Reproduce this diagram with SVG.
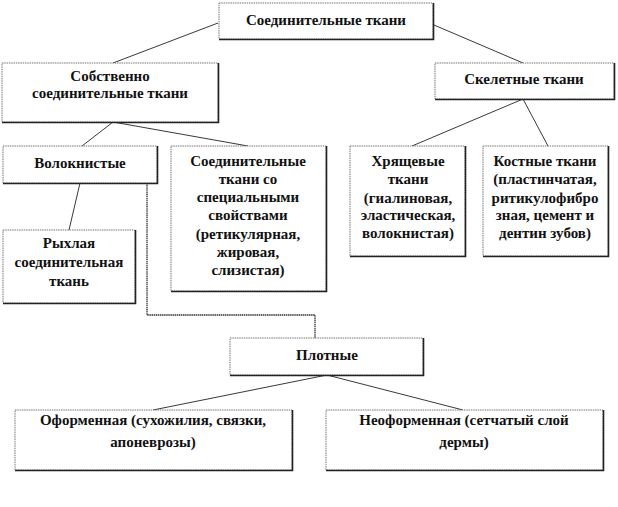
<svg xmlns="http://www.w3.org/2000/svg" width="618" height="507" viewBox="0 0 618 507">
<style>
.box{fill:#fff;stroke:#777;stroke-width:1;stroke-dasharray:1.5 0.8}
.sh{fill:none;stroke:#222;stroke-width:1.6}
.t{font-weight:bold;font-size:15px;fill:#111;text-anchor:middle}
.c{fill:none;stroke:#222;stroke-width:0.9}
.e{fill:none;stroke:#333;stroke-width:1.3;stroke-dasharray:1.5 0.6}
</style>
<rect width="618" height="507" fill="#fff"/>
<g id="connectors">
<line class="c" x1="218" y1="23" x2="113" y2="63"/>
<line class="c" x1="434" y1="25" x2="523" y2="63"/>
<line class="c" x1="113" y1="122" x2="82" y2="146"/>
<line class="c" x1="113" y1="122" x2="248" y2="146"/>
<line class="c" x1="523" y1="99" x2="412" y2="146"/>
<line class="c" x1="523" y1="99" x2="548" y2="146"/>
<line class="c" x1="80" y1="183" x2="69" y2="230"/>
<polyline class="e" points="147,183 147,315 315,315 315,338"/>
<line class="c" x1="327" y1="375" x2="153" y2="410"/>
<line class="c" x1="327" y1="375" x2="463" y2="410"/>
</g>
<g font-family="Liberation Serif, Times New Roman, serif">
<g id="n-root">
<rect class="box" x="219" y="3" width="214" height="36"/>
<polyline class="sh" points="433.5,3 433.5,39.5 219,39.5"/>
<text class="t" x="326" y="25">Соединительные ткани</text>
</g>
<g id="n-proper">
<rect class="box" x="2" y="63" width="216" height="59"/>
<polyline class="sh" points="218.5,63 218.5,122.5 2,122.5"/>
<text class="t" x="110" y="81">Собственно</text>
<text class="t" x="110" y="98">соединительные ткани</text>
</g>
<g id="n-skeletal">
<rect class="box" x="435" y="63" width="179" height="36"/>
<polyline class="sh" points="614.5,63 614.5,99.5 435,99.5"/>
<text class="t" x="524" y="84">Скелетные ткани</text>
</g>
<g id="n-fibrous">
<rect class="box" x="3" y="146" width="154" height="37"/>
<polyline class="sh" points="157.5,146 157.5,183.5 3,183.5"/>
<text class="t" x="80" y="168">Волокнистые</text>
</g>
<g id="n-special">
<rect class="box" x="171" y="146" width="155" height="145"/>
<polyline class="sh" points="326.5,146 326.5,291.5 171,291.5"/>
<text class="t" x="248" y="166">Соединительные</text>
<text class="t" x="248" y="184">ткани со</text>
<text class="t" x="248" y="202">специальными</text>
<text class="t" x="248" y="220">свойствами</text>
<text class="t" x="248" y="239">(ретикулярная,</text>
<text class="t" x="248" y="257">жировая,</text>
<text class="t" x="248" y="275">слизистая)</text>
</g>
<g id="n-loose">
<rect class="box" x="3" y="230" width="132" height="73"/>
<polyline class="sh" points="135.5,230 135.5,303.5 3,303.5"/>
<text class="t" x="69" y="248">Рыхлая</text>
<text class="t" x="69" y="267">соединительная</text>
<text class="t" x="69" y="286">ткань</text>
</g>
<g id="n-cartilage">
<rect class="box" x="350" y="146" width="115" height="110"/>
<polyline class="sh" points="465.5,146 465.5,256.5 350,256.5"/>
<text class="t" x="408" y="166">Хрящевые</text>
<text class="t" x="408" y="184">ткани</text>
<text class="t" x="408" y="203">(гиалиновая,</text>
<text class="t" x="408" y="220">эластическая,</text>
<text class="t" x="408" y="238">волокнистая)</text>
</g>
<g id="n-bone">
<rect class="box" x="483" y="146" width="125" height="110"/>
<polyline class="sh" points="608.5,146 608.5,256.5 483,256.5"/>
<text class="t" x="545" y="166">Костные ткани</text>
<text class="t" x="545" y="184">(пластинчатая,</text>
<text class="t" x="545" y="203">ритикулофибро</text>
<text class="t" x="545" y="220">зная, цемент и</text>
<text class="t" x="545" y="238">дентин зубов)</text>
</g>
<g id="n-dense">
<rect class="box" x="230" y="338" width="193" height="37"/>
<polyline class="sh" points="423.5,338 423.5,375.5 230,375.5"/>
<text class="t" x="327" y="360">Плотные</text>
</g>
<g id="n-formed">
<rect class="box" x="15" y="410" width="277" height="60"/>
<polyline class="sh" points="292.5,410 292.5,470.5 15,470.5"/>
<text class="t" x="153" y="425">Оформенная (сухожилия,  связки,</text>
<text class="t" x="153" y="447">апоневрозы)</text>
</g>
<g id="n-unformed">
<rect class="box" x="326" y="410" width="277" height="60"/>
<polyline class="sh" points="603.5,410 603.5,470.5 326,470.5"/>
<text class="t" x="464" y="425">Неоформенная (сетчатый слой</text>
<text class="t" x="464" y="447">дермы)</text>
</g>
</g>
</svg>
